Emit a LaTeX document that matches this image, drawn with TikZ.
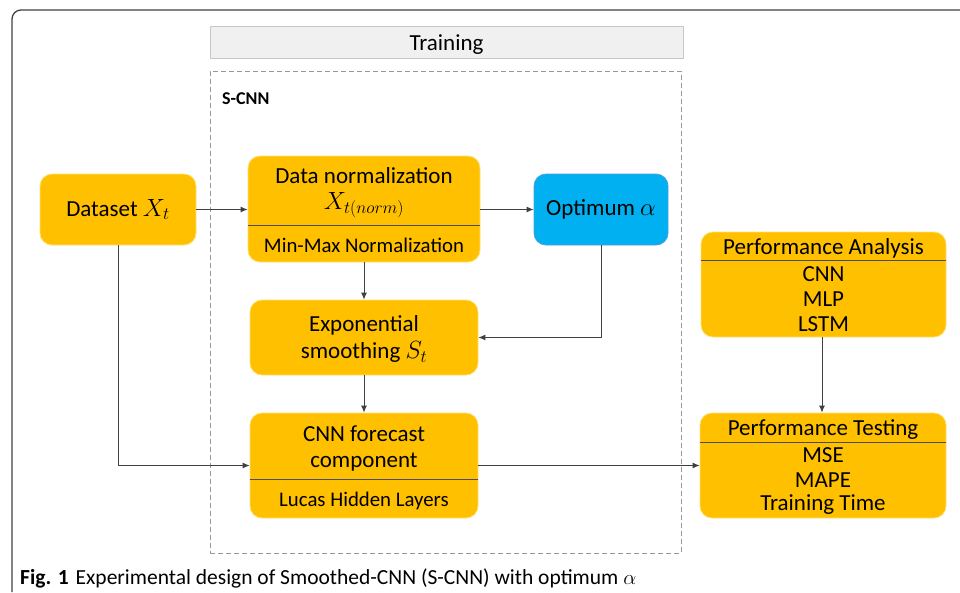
\documentclass[tikz,border=0pt]{standalone}
\usepackage{fontspec}
\setmainfont{Carlito}
\usetikzlibrary{arrows.meta}
\definecolor{gold}{HTML}{FFC000}
\definecolor{goldedge}{HTML}{FFE070}
\definecolor{sky}{HTML}{00B0F0}
\definecolor{skyedge}{HTML}{4A9FE0}
\definecolor{lin}{HTML}{404040}
\tikzset{
  box/.style={draw=goldedge, fill=gold, line width=0.8pt, rounded corners=12pt, inner sep=0pt},
  bluebox/.style={draw=skyedge, fill=sky, line width=0.8pt, rounded corners=12pt, inner sep=0pt},
  txt/.style={inner sep=0pt, font=\fontsize{23}{27}\selectfont, text=black},
  stxt/.style={inner sep=0pt, font=\fontsize{20.8}{25}\selectfont, text=black},
  divider/.style={draw=black!70, line width=1pt},
  conn/.style={draw=lin, line width=0.9pt, -{Latex[length=7pt,width=6pt]}},
}
\begin{document}
\begin{tikzpicture}[x=1pt,y=-1pt]
\useasboundingbox (0,0) rectangle (960,592);
% outer frame
\draw[lin, line width=1.3pt, rounded corners=9pt] (12,592) -- (12,10) -- (960,10);
% Training header
\node[draw=black!22, fill=black!6, line width=0.8pt, minimum width=473pt, minimum height=32pt, inner sep=0pt] (trhead) at (446.5,42) {};
\node[txt] (trtxt) at (446.5,44.5) {Training};
% dashed S-CNN frame
\node[draw=black!40, dashed, dash pattern=on 5pt off 3pt, line width=0.8pt, minimum width=471pt, minimum height=482pt, inner sep=0pt] (scnn) at (445.5,312) {};
\node[inner sep=0pt, anchor=west, font=\fontsize{18}{21}\selectfont\bfseries] (scnntxt) at (222,99) {S-CNN};
% Dataset
\node[box, minimum width=156pt, minimum height=71pt] (ds) at (118,209.5) {};
\node[txt] (dstxt) at (ds.center) {Dataset $X_t$};
% Data normalization
\node[box, minimum width=232pt, minimum height=106pt] (dn) at (364,209) {};
\node[txt] (dn1) at (364,176) {Data normalization};
\node[txt] (dn2) at (364,205) {$X_{t(norm)}$};
\draw[divider] (dn.west |- 0,225) -- (dn.east |- 0,225);
\node[stxt] (dn3) at (364,245) {Min-Max Normalization};
% Optimum alpha
\node[bluebox, minimum width=134pt, minimum height=71pt] (opt) at (601,209.5) {};
\node[txt] (opttxt) at (opt.center) {Optimum $\alpha$};
% Exponential smoothing
\node[box, minimum width=228pt, minimum height=75pt] (es) at (364,337.5) {};
\node[txt] (es1) at (364,325) {Exponential};
\node[txt] (es2) at (364,352) {smoothing $S_t$};
% CNN forecast component
\node[box, minimum width=228pt, minimum height=105pt] (cnn) at (364,465.5) {};
\node[txt] (cnn1) at (364,434) {CNN forecast};
\node[txt] (cnn2) at (364,462) {component};
\draw[divider] (cnn.west |- 0,479) -- (cnn.east |- 0,479);
\node[stxt] (cnn3) at (364,501) {Lucas Hidden Layers};
% Performance Analysis
\node[box, minimum width=245pt, minimum height=105pt] (pa) at (823.5,284.5) {};
\node[txt] (pa1) at (823.5,248) {Performance Analysis};
\draw[divider] (pa.west |- 0,260) -- (pa.east |- 0,260);
\node[txt] (pa2) at (823.5,274) {CNN};
\node[txt] (pa3) at (823.5,299) {MLP};
\node[txt] (pa4) at (823.5,324) {LSTM};
% Performance Testing
\node[box, minimum width=246pt, minimum height=105pt] (pt) at (823,465.5) {};
\node[txt] (pt1) at (823,430) {Performance Testing};
\draw[divider] (pt.west |- 0,442) -- (pt.east |- 0,442);
\node[txt] (pt2) at (823,455) {MSE};
\node[txt] (pt3) at (823,480) {MAPE};
\node[txt] (pt4) at (823,505) {Training Time};
% connectors
\draw[conn] (ds.east) -- (dn.west |- ds.east);
\draw[conn] (dn.east |- opt.west) -- (opt.west);
\draw[conn] (dn.south) -- (es.north);
\draw[conn] (opt.south) |- (es.east);
\draw[conn] (es.south) -- (cnn.north);
\draw[conn] (ds.south) |- (cnn.west);
\draw[conn] (cnn.east) -- (pt.west);
\draw[conn] (pa.south -| 822,0) -- (pt.north -| 822,0);
% caption
\node[inner sep=0pt, anchor=base west, font=\fontsize{21.5}{25}\selectfont] (cap) at (20,584) {\textbf{Fig. 1}\hspace{7pt}Experimental design of Smoothed-CNN (S-CNN) with optimum $\alpha$};
\end{tikzpicture}
\end{document}
